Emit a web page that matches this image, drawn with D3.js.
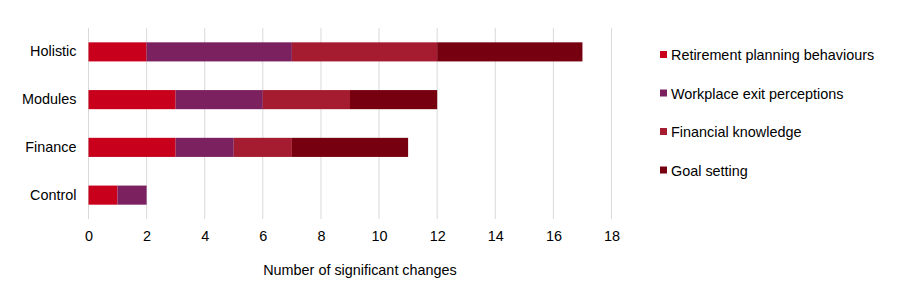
<!DOCTYPE html>
<html><head><meta charset="utf-8">
<script src="https://cdn.jsdelivr.net/npm/d3@7"></script>
<style>body{margin:0;background:#fff}svg{display:block;font-family:"Liberation Sans",Arial,sans-serif}</style>
</head><body><svg id="c" width="900" height="284"></svg>
<script>
const categories = ["Holistic","Modules","Finance","Control"];
const seriesNames = ["Retirement planning behaviours","Workplace exit perceptions","Financial knowledge","Goal setting"];
const retirement = [2,3,3,1];
const workplace = [5,3,2,1];
const financial = [5,3,2,0];
const goal = [5,3,4,0];
const xTicks = [0,2,4,6,8,10,12,14,16,18];
const colors = ["#c8001c","#7b2160","#a51b30","#760010"];
const FS = 14.4;

const svg = d3.select("#c");
const x = d3.scaleLinear().domain([0,18]).range([88.5,611.5]);
const y = d3.scaleBand().domain(categories).range([28,219]).paddingInner(0.6).paddingOuter(0.3);

const rows = categories.map((c,i)=>({cat:c,v:[retirement[i],workplace[i],financial[i],goal[i]]}));
const stackData = rows.map(r=>{const o={cat:r.cat}; seriesNames.forEach((s,j)=>o[s]=r.v[j]); return o;});
const stacked = d3.stack().keys(seriesNames)(stackData);

svg.append("g").selectAll("line").data(xTicks).join("line")
  .attr("x1",d=>x(d)).attr("x2",d=>x(d)).attr("y1",28).attr("y2",219)
  .attr("stroke","#d9d9d9").attr("stroke-width",1);

svg.append("g").selectAll("g").data(stacked).join("g")
  .attr("fill",(d,i)=>colors[i])
  .selectAll("rect").data(d=>d).join("rect")
  .attr("x",d=>x(d[0])).attr("width",d=>x(d[1])-x(d[0]))
  .attr("y",d=>y(d.data.cat)).attr("height",y.bandwidth());

const xa = svg.append("g").attr("transform","translate(0,219)")
  .call(d3.axisBottom(x).tickValues(xTicks).tickSize(0).tickPadding(12));
xa.select(".domain").remove();
xa.selectAll("text").attr("font-size",FS).attr("fill","#000").attr("font-family","Liberation Sans, Arial, sans-serif");

const ya = svg.append("g").attr("transform","translate(88.5,0)")
  .call(d3.axisLeft(y).tickSize(0).tickPadding(12));
ya.select(".domain").remove();
ya.selectAll("text").attr("font-size",FS).attr("fill","#000").attr("font-family","Liberation Sans, Arial, sans-serif");

svg.append("text").attr("x",360).attr("y",275).attr("text-anchor","middle")
  .attr("font-size",FS).attr("fill","#000").text("Number of significant changes");

const lg = svg.append("g").selectAll("g").data(seriesNames).join("g")
  .attr("transform",(d,i)=>`translate(660,${55+i*38.5})`);
lg.append("rect").attr("x",0).attr("y",-4).attr("width",7).attr("height",7).attr("fill",(d,i)=>colors[i]);
lg.append("text").attr("x",11).attr("y",0).attr("dy","0.35em").attr("font-size",FS).attr("fill","#000").text(d=>d);
</script></body></html>
